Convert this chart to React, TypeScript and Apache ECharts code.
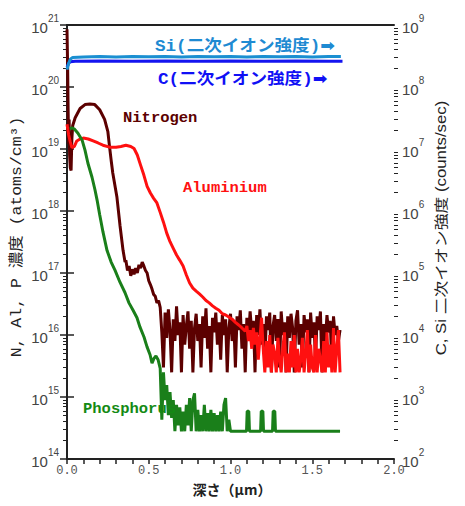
import React, { useEffect, useRef } from "react";
import * as echarts from "echarts";

// ---- axis definitions ----
const xLabelValues = [0, 0.5, 1.0, 1.5, 2.0];
const leftMin = 1e14;
const leftMax = 1e21;
const rightMin = 1e2;
const rightMax = 1e9;
const minorMantissas = [2, 3, 4, 5, 6, 7, 8, 9];

// ---- series data: [depth (µm), value] ----
const siData: [number, number][] = [
  [0, 1.9e8], [0.01, 2.4e8], [0.02, 2.8e8], [0.035, 3.0e8], [0.1, 3.05e8], [0.2, 3.1e8],
  [0.3, 3.05e8], [0.4, 3.1e8], [0.5, 3.08e8], [0.6, 3.1e8], [0.7, 3.05e8], [0.8, 3.1e8],
  [0.9, 3.08e8], [1.0, 3.1e8], [1.1, 3.05e8], [1.2, 3.1e8], [1.3, 3.08e8], [1.4, 3.1e8],
  [1.5, 3.05e8], [1.6, 3.1e8], [1.675, 3.1e8],
];

const cData: [number, number][] = [
  [0, 2.1e8], [0.01, 2.4e8], [0.02, 2.55e8], [0.05, 2.6e8], [0.2, 2.62e8], [0.4, 2.6e8],
  [0.6, 2.62e8], [0.8, 2.6e8], [1.0, 2.62e8], [1.2, 2.6e8], [1.4, 2.62e8], [1.6, 2.6e8],
  [1.685, 2.6e8],
];

const nitrogenData: [number, number][] = [
  [0, 8.5e20], [0.004, 2e20], [0.007, 4e19], [0.01, 1.2e19], [0.013, 3e19], [0.016, 8e18],
  [0.02, 5e18], [0.025, 4.5e18], [0.03, 1.5e19], [0.035, 2.4e19], [0.05, 3.2e19], [0.08, 4.5e19],
  [0.11, 5.2e19], [0.14, 5.3e19], [0.17, 5.2e19], [0.2, 4.3e19], [0.23, 3.0e19], [0.25, 1.9e19],
  [0.26, 1.1e19], [0.27, 6.6e18], [0.28, 4.1e18], [0.305, 1.7e18], [0.324, 5.9e17], [0.343, 2.3e17],
  [0.355, 1.5e17], [0.36, 1.6e17], [0.37, 1.1e17], [0.38, 1.3e17], [0.39, 9e16], [0.40, 1.15e17],
  [0.41, 9.5e16], [0.42, 1.2e17], [0.43, 1.0e17], [0.44, 1.35e17], [0.45, 1.2e17], [0.46, 1.5e17],
  [0.47, 1.3e17], [0.48, 1.1e17], [0.49, 1.0e17], [0.50, 7.5e16], [0.51, 6.5e16], [0.52, 5.5e16],
  [0.53, 4.5e16], [0.54, 4.2e16], [0.55, 3.3e16], [0.56, 3.6e16],
  [0.57, 2.8e16], [0.58, 1.1e16], [0.59, 3e15], [0.60, 2.3e16], [0.61, 9e15], [0.62, 2.6e16],
  [0.63, 1.2e16], [0.64, 2.5e15], [0.65, 1.8e16], [0.66, 8e15], [0.67, 2.9e16], [0.68, 1e16],
  [0.69, 1.6e16], [0.70, 2.5e15], [0.71, 2.1e16], [0.72, 7e15], [0.73, 1.4e16], [0.74, 2.4e16],
  [0.75, 6e15], [0.76, 1.7e16], [0.77, 2.5e15], [0.78, 1.3e16], [0.79, 2.2e16], [0.80, 8e15],
  [0.81, 1.5e16], [0.82, 3e15], [0.83, 2e16], [0.84, 9e15], [0.85, 2.7e16], [0.86, 6e15],
  [0.87, 1.4e16], [0.88, 2.5e15], [0.89, 1.9e16], [0.90, 1.1e16], [0.91, 2.3e16], [0.92, 7e15],
  [0.93, 1.6e16], [0.94, 4e15], [0.95, 2.1e16], [0.96, 1e16], [0.97, 1.8e16], [0.98, 2.5e15],
  [0.99, 1.3e16], [1.00, 2.2e16], [1.01, 8e15], [1.02, 1.7e16], [1.03, 3e15], [1.04, 2e16],
  [1.05, 1.2e16], [1.06, 2.5e16], [1.07, 6e15], [1.08, 1.5e16], [1.09, 2.5e15], [1.10, 1.9e16],
  [1.11, 9e15], [1.12, 2.4e16], [1.13, 1.1e16], [1.14, 1.7e16], [1.15, 2.5e15], [1.16, 2.1e16],
  [1.17, 1e16], [1.18, 2.6e16], [1.19, 7e15], [1.20, 1.5e16], [1.21, 4e15], [1.22, 2e16],
  [1.23, 1.2e16], [1.24, 2.3e16], [1.25, 2.5e15], [1.26, 1.4e16], [1.27, 2.1e16], [1.28, 8e15],
  [1.29, 1.8e16], [1.30, 3e15], [1.31, 2.4e16], [1.32, 1e16], [1.33, 1.6e16], [1.34, 2.5e15],
  [1.35, 2e16], [1.36, 9e15], [1.37, 2.2e16], [1.38, 1.3e16], [1.39, 2.5e15], [1.40, 1.7e16],
  [1.41, 2.5e16], [1.42, 7e15], [1.43, 1.5e16], [1.44, 3e15], [1.45, 2.1e16], [1.46, 1.1e16],
  [1.47, 1.8e16], [1.48, 2.5e15], [1.49, 2.3e16], [1.50, 9e15], [1.51, 1.6e16], [1.52, 4e15],
  [1.53, 2e16], [1.54, 1.2e16], [1.55, 2.4e16], [1.56, 2.5e15], [1.57, 1.5e16], [1.58, 8e15],
  [1.59, 2.1e16], [1.60, 1.1e16], [1.61, 1.7e16], [1.62, 3e15], [1.63, 2e16], [1.64, 1e16],
  [1.65, 1.4e16], [1.66, 8e15], [1.67, 1.2e16],
];

const aluminiumData: [number, number][] = [
  [0, 2.5e19], [0.01, 1.7e19], [0.02, 1.3e19], [0.03, 1.05e19], [0.045, 1.1e19], [0.06, 1.35e19],
  [0.08, 1.45e19], [0.1, 1.5e19], [0.13, 1.45e19], [0.16, 1.35e19], [0.19, 1.25e19], [0.22, 1.15e19],
  [0.26, 1.07e19], [0.3, 1.07e19], [0.33, 1.1e19], [0.36, 1.15e19], [0.39, 1.1e19], [0.41, 1.02e19],
  [0.43, 8e18], [0.45, 5.5e18], [0.47, 3.8e18], [0.49, 2.5e18], [0.51, 1.95e18], [0.53, 1.6e18],
  [0.55, 1.35e18], [0.57, 9.5e17], [0.59, 6.6e17], [0.61, 4.4e17], [0.63, 3.2e17], [0.65, 2.5e17],
  [0.67, 1.95e17], [0.69, 1.6e17], [0.71, 1.3e17], [0.73, 9.3e16], [0.75, 6.9e16], [0.77, 5.7e16],
  [0.79, 5.1e16], [0.81, 4.6e16], [0.83, 4.1e16], [0.85, 3.6e16], [0.87, 3.3e16], [0.89, 2.95e16],
  [0.91, 2.7e16], [0.93, 2.5e16], [0.95, 2.2e16], [0.97, 2.1e16], [0.99, 1.95e16], [1.01, 1.8e16],
  [1.03, 1.6e16], [1.05, 1.45e16], [1.07, 1.3e16], [1.09, 1.15e16],
  [1.10, 1.4e16], [1.11, 8e15], [1.12, 1.2e16], [1.13, 6e15], [1.14, 1.3e16], [1.15, 7e15],
  [1.16, 1.1e16], [1.17, 4e15], [1.18, 9e15], [1.19, 1.9e16], [1.20, 6e15], [1.21, 2.5e15],
  [1.22, 8e15], [1.23, 3e15], [1.24, 1e16], [1.25, 2.5e15], [1.26, 7e15], [1.27, 5e15],
  [1.28, 2.5e15], [1.29, 9e15], [1.30, 4e15], [1.31, 2.5e15], [1.32, 6e15], [1.33, 1.1e16],
  [1.34, 2.5e15], [1.35, 5e15], [1.36, 2.5e15], [1.37, 8e15], [1.38, 3e15], [1.39, 1e16],
  [1.40, 2.5e15], [1.41, 6e15], [1.42, 2.5e15], [1.43, 4e15], [1.44, 9e15], [1.45, 2.5e15],
  [1.46, 5e15], [1.47, 1.2e16], [1.48, 2.5e15], [1.49, 7e15], [1.50, 3e15], [1.51, 2.5e15],
  [1.52, 1e16], [1.53, 2.5e15], [1.54, 6e15], [1.55, 4e15], [1.56, 2.5e15], [1.57, 8e15],
  [1.58, 2.5e15], [1.59, 1.1e16], [1.60, 3e15], [1.61, 7e15], [1.62, 2.5e15], [1.63, 1.3e16],
  [1.64, 2.5e15], [1.65, 6e15], [1.66, 1.2e16], [1.67, 2.5e15],
];

const phosphorusData: [number, number][] = [
  [0.018, 2.1e19], [0.03, 2.2e19], [0.045, 2.1e19], [0.067, 1.8e19], [0.092, 1.4e19], [0.11, 9.6e18],
  [0.128, 5.9e18], [0.153, 3.5e18], [0.171, 2.2e18], [0.184, 1.5e18], [0.2, 8.7e17], [0.22, 4.6e17],
  [0.245, 2.3e17], [0.27, 1.5e17], [0.294, 1.1e17], [0.324, 7.1e16], [0.355, 4.8e16], [0.379, 3.3e16],
  [0.404, 2.5e16], [0.428, 1.9e16], [0.446, 1.35e16], [0.471, 9.3e15], [0.489, 6.5e15], [0.508, 4.8e15],
  [0.52, 3.5e15], [0.532, 4.2e15], [0.544, 4.6e15], [0.557, 4.0e15],
  [0.57, 2.9e15], [0.58, 4.3e14], [0.59, 2.5e15], [0.60, 8.9e14], [0.61, 1.55e15], [0.62, 5.1e14],
  [0.63, 1.2e15], [0.64, 4.6e14], [0.65, 8.9e14], [0.66, 2.8e14], [0.67, 7.5e14], [0.68, 3.5e14],
  [0.69, 6.8e14], [0.70, 2.8e14], [0.71, 5.8e14], [0.72, 2.8e14], [0.73, 7.5e14], [0.74, 3.5e14],
  [0.75, 9.6e14], [0.76, 2.8e14], [0.77, 8.9e14], [0.78, 1.15e15], [0.79, 2.8e14], [0.80, 6.2e14],
  [0.81, 2.8e14], [0.82, 5.1e14], [0.83, 2.8e14], [0.84, 7.5e14], [0.85, 2.8e14], [0.86, 5.5e14],
  [0.87, 2.8e14], [0.88, 6.2e14], [0.89, 2.8e14], [0.90, 5.5e14], [0.91, 2.8e14], [0.92, 5.1e14],
  [0.93, 2.8e14], [0.94, 5.8e14], [0.95, 2.8e14], [0.96, 7.5e14], [0.97, 9.6e14], [0.98, 2.8e14],
  [0.99, 4.3e14], [1.00, 2.8e14],
  [1.098, 2.8e14], [1.102, 5.9e14], [1.112, 5.9e14], [1.116, 2.8e14],
  [1.184, 2.8e14], [1.188, 5.9e14], [1.198, 5.9e14], [1.202, 2.8e14],
  [1.257, 2.8e14], [1.261, 5.9e14], [1.271, 5.9e14], [1.275, 2.8e14],
  [1.67, 2.8e14],
];

// ---- text ----
const annotations = [
  { text: "Si(二次イオン強度)➡", x: 155, y: 47, color: "#1e8ad2", size: 16, scale: 1.1 },
  { text: "C(二次イオン強度)➡", x: 158, y: 80, color: "#1010f5", size: 16, scale: 1.1 },
  { text: "Nitrogen", x: 123, y: 118, color: "#5c0000", size: 15.5, scale: 1 },
  { text: "Aluminium", x: 183, y: 188, color: "#ff1010", size: 15.5, scale: 1 },
  { text: "Phosphorus", x: 83, y: 409, color: "#148a14", size: 15.5, scale: 1 },
];
const leftTitle = "N, Al, P 濃度 (atoms/cm³)";
const rightTitle = "C, Si 二次イオン強度 (counts/sec)";
const xTitle = "深さ（μm）";

const monoFont = '"Liberation Mono", "DejaVu Sans", "Noto Sans CJK JP", monospace';
const sansFont = '"Liberation Sans", Arial, "Noto Sans CJK JP", sans-serif';
const narrowFont = '"Liberation Sans Narrow", "Liberation Sans", Arial, sans-serif';
const axisColor = "#222";

function minorValues(lo: number, hi: number): number[] {
  const out: number[] = [];
  for (let e = Math.round(Math.log10(lo)); e < Math.round(Math.log10(hi)); e++) {
    for (const m of minorMantissas) out.push(m * Math.pow(10, e));
  }
  return out;
}

const powFormatter = (v: number) => `{b|10}{s|${Math.round(Math.log10(v))}}`;
const powRich = {
  b: { fontSize: 15, fontFamily: narrowFont, color: "#444", lineHeight: 15, padding: [8, 0, 3, 0] },
  s: { fontSize: 10, fontFamily: narrowFont, color: "#444", lineHeight: 10, padding: [0, 0, 14, 0] },
};

function mainLogAxis(min: number, max: number, position: "left" | "right") {
  return {
    type: "log",
    logBase: 10,
    min,
    max,
    position,
    axisLine: { show: true, lineStyle: { color: axisColor, width: 2 } },
    axisTick: { show: true, inside: false, length: 7, lineStyle: { color: axisColor, width: 1.5 } },
    axisLabel: { show: true, margin: 8, formatter: powFormatter, rich: powRich },
    splitLine: { show: false },
    minorTick: { show: false },
  };
}

function minorLogAxis(min: number, max: number, position: "left" | "right") {
  return {
    type: "log",
    logBase: 10,
    min,
    max,
    position,
    axisLine: { show: false },
    axisTick: {
      show: true,
      inside: false,
      length: 4,
      customValues: minorValues(min, max),
      lineStyle: { color: axisColor, width: 1 },
    },
    axisLabel: { show: false },
    splitLine: { show: false },
  };
}

function lineSeries(name: string, data: [number, number][], color: string, yAxisIndex: number, z: number) {
  return {
    name,
    type: "line",
    xAxisIndex: 0,
    yAxisIndex,
    data,
    showSymbol: false,
    symbol: "none",
    lineStyle: { color, width: 3 },
    itemStyle: { color },
    z,
  };
}

const option = {
  animation: false,
  backgroundColor: "#ffffff",
  grid: { left: 67, right: 71, top: 25, bottom: 47, containLabel: false, outerBoundsMode: "none" },
  xAxis: [
    {
      type: "value",
      min: 0,
      max: 2,
      interval: 0.1,
      position: "bottom",
      axisLine: { show: true, lineStyle: { color: axisColor, width: 2 } },
      axisTick: { show: true, inside: false, length: 5, lineStyle: { color: axisColor, width: 1.5 } },
      axisLabel: {
        margin: 6,
        fontFamily: monoFont,
        fontSize: 12,
        lineHeight: 12,
        color: "#555",
        formatter: (v: number) =>
          xLabelValues.some((t) => Math.abs(t - v) < 1e-6) ? v.toFixed(1) : "",
      },
      splitLine: { show: false },
    },
    {
      type: "value",
      min: 0,
      max: 2,
      position: "top",
      axisLine: { show: true, lineStyle: { color: axisColor, width: 2 } },
      axisTick: { show: false },
      axisLabel: { show: false },
      splitLine: { show: false },
    },
  ],
  yAxis: [
    mainLogAxis(leftMin, leftMax, "left"),
    mainLogAxis(rightMin, rightMax, "right"),
    minorLogAxis(leftMin, leftMax, "left"),
    minorLogAxis(rightMin, rightMax, "right"),
  ],
  series: [
    lineSeries("Nitrogen", nitrogenData, "#5c0000", 0, 2),
    lineSeries("Aluminium", aluminiumData, "#ff1010", 0, 3),
    lineSeries("Phosphorus", phosphorusData, "#1a7f1a", 0, 4),
    lineSeries("C", cData, "#1414f0", 1, 5),
    lineSeries("Si", siData, "#1a8fd1", 1, 6),
  ],
  graphic: [
    ...annotations.map((a) => ({
      type: "text",
      x: a.x,
      y: a.y,
      scaleX: a.scale,
      z: 100,
      style: {
        text: a.text,
        fill: a.color,
        fontSize: a.size,
        fontWeight: "bold",
        fontFamily: monoFont,
        textAlign: "left",
        textVerticalAlign: "middle",
      },
    })),
    {
      type: "text",
      x: 17,
      y: 237,
      rotation: Math.PI / 2,
      scaleX: 1.1,
      style: {
        text: leftTitle,
        fill: "#222",
        fontSize: 15,
        fontFamily: monoFont,
        textAlign: "center",
        textVerticalAlign: "middle",
      },
    },
    {
      type: "text",
      x: 441,
      y: 228,
      rotation: Math.PI / 2,
      scaleX: 1.2,
      style: {
        text: rightTitle,
        fill: "#222",
        fontSize: 14,
        fontFamily: sansFont,
        textAlign: "center",
        textVerticalAlign: "middle",
      },
    },
    {
      type: "text",
      x: 232,
      y: 489,
      style: {
        text: xTitle,
        fill: "#222",
        fontSize: 14,
        fontWeight: "bold",
        fontFamily: '"Noto Sans CJK JP", sans-serif',
        textAlign: "center",
        textVerticalAlign: "middle",
      },
    },
  ],
};

export default function App() {
  const ref = useRef<HTMLDivElement>(null);
  useEffect(() => {
    if (!ref.current) return;
    const chart = echarts.init(ref.current, null, { renderer: "svg" });
    chart.setOption(option as any);
    return () => chart.dispose();
  }, []);
  return (
    <div
      ref={ref}
      style={{ position: "fixed", left: 0, top: 0, width: 465, height: 506, background: "#fff" }}
    />
  );
}
